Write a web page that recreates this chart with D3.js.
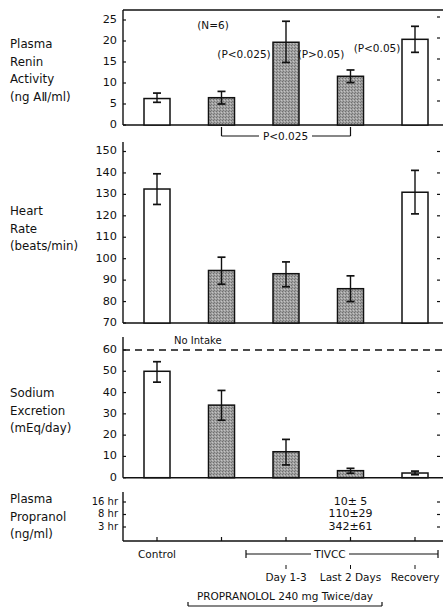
<!DOCTYPE html>
<html><head><meta charset="utf-8">
<script src="https://cdn.jsdelivr.net/npm/d3@7/dist/d3.min.js"></script>
<style>body{margin:0;background:#fff}svg{display:block}text{font-family:"DejaVu Sans",sans-serif;fill:#111}</style>
</head><body><svg id="c" width="443" height="610"></svg>
<script>
const categories = ["Control","Propranolol","Day 1-3","Last 2 Days","Recovery"];
const shaded = [false,true,true,true,false];
const reninMean = [6.3,6.5,19.7,11.6,20.4];
const reninLow  = [5.4,5.0,14.9,10.1,17.3];
const reninHigh = [7.6,8.0,24.7,13.1,23.5];
const hrMean = [132.5,94.5,93,86,131];
const hrLow  = [125.3,88.1,86.9,80,120.9];
const hrHigh = [139.6,100.7,98.5,92,141.2];
const naMean = [50,34.1,12.2,3.3,2.2];
const naLow  = [44.9,27,6,2.1,1.4];
const naHigh = [54.5,41,18,4.4,3.1];
const reninTicks = [0,5,10,15,20,25];
const hrTicks = [70,80,90,100,110,120,130,140,150];
const naTicks = [0,10,20,30,40,50,60];
const propLevels = ["16 hr","8 hr","3 hr"];
const propValues = ["10± 5","110±29","342±61"];
const noIntake = 60;

const svg = d3.select("#c");
const defs = svg.append("defs");
const pat = defs.append("pattern").attr("id","stip").attr("patternUnits","userSpaceOnUse").attr("width",3).attr("height",3);
pat.append("rect").attr("width",3).attr("height",3).attr("fill","#a0a0a0");
pat.append("rect").attr("x",0).attr("y",0).attr("width",1).attr("height",1).attr("fill","#6f6f6f");
pat.append("rect").attr("x",2).attr("y",1).attr("width",1).attr("height",1).attr("fill","#c4c4c4");
pat.append("rect").attr("x",1).attr("y",2).attr("width",1).attr("height",1).attr("fill","#7a7a7a");

const AX = 123, RX = 443, RT = 440;
const x = d3.scalePoint().domain(categories).range([157,415]);
const BW = 26;

function line(x1,y1,x2,y2,sw,dash){
  const l = svg.append("line").attr("x1",x1).attr("y1",y1).attr("x2",x2).attr("y2",y2)
    .attr("stroke","#111").attr("stroke-width",sw||1.3);
  if(dash) l.attr("stroke-dasharray",dash);
  return l;
}
function txt(s,xx,yy,anchor,size){
  return svg.append("text").attr("x",xx).attr("y",yy).attr("text-anchor",anchor||"start")
    .attr("font-size",size||11).text(s);
}
function label(lines,y0){
  lines.forEach((s,i)=>txt(s,10,y0+i*17.5,"start",11.8));
}

function panel(y, ticks, mean, low, high, axisTop){
  const y0 = y.range()[0];
  line(AX, axisTop, AX, y0, 1.4);
  line(AX, y0, RX, y0, 1.4);
  const g = svg.append("g");
  g.selectAll("rect").data(categories).join("rect")
    .attr("x",d=>x(d)-BW/2).attr("width",BW)
    .attr("y",(d,i)=>y(mean[i])).attr("height",(d,i)=>y0-y(mean[i]))
    .attr("fill",(d,i)=>shaded[i]?"url(#stip)":"#fff")
    .attr("stroke","#111").attr("stroke-width",1.5);
  categories.forEach((c,i)=>{
    const cx = x(c);
    line(cx, y(high[i]), cx, y(low[i]), 1.4);
    line(cx-4, y(high[i]), cx+4, y(high[i]), 1.7);
    line(cx-4, y(low[i]), cx+4, y(low[i]), 1.7);
  });
  ticks.forEach(t=>{
    line(AX, y(t), AX+3, y(t), 1.2);
    txt(String(t), 117, y(t)-1, "end", 11.3).attr("dy","0.35em");
  });
}

// Panel 1: renin
const yR = d3.scaleLinear().domain([0,25]).range([125,20]);
line(AX, 10, RX, 10, 1.4);
panel(yR, reninTicks, reninMean, reninLow, reninHigh, 10);
reninTicks.slice(1).forEach(t=>line(RT-3, yR(t)-3, RT, yR(t)-3, 1.2));
label(["Plasma","Renin","Activity","(ng AⅡ/ml)"],48);
txt("(N=6)", 213, 29, "middle", 10.5);
txt("(P<0.025)", 244, 58, "middle", 10.5);
txt("(P>0.05)", 321, 58, "middle", 10.5);
txt("(P<0.05)", 377, 52, "middle", 10.5);
{
  const xa = x(categories[1]), xb = x(categories[3]), yb = 136;
  line(xa, 127, xa, yb, 1.2); line(xb, 127, xb, yb, 1.2);
  line(xa, yb, 259, yb, 1.2); line(312, yb, xb, yb, 1.2);
  txt("P<0.025", 285.5, yb, "middle", 10.5).attr("dy","0.35em");
}

// Panel 2: heart rate
const yH = d3.scaleLinear().domain([70,150]).range([323,151.5]);
panel(yH, hrTicks, hrMean, hrLow, hrHigh, 142);
hrTicks.slice(1).forEach(t=>line(RT-3, yH(t), RT, yH(t), 1.2));
label(["Heart","Rate","(beats/min)"],215);

// Panel 3: sodium
const yN = d3.scaleLinear().domain([0,60]).range([477.7,350]);
panel(yN, naTicks, naMean, naLow, naHigh, 337);
line(AX, yN(noIntake), RX, yN(noIntake), 1.3, "7,5");
naTicks.slice(1,-1).forEach(t=>line(RT-3, yN(t), RT, yN(t), 1.2));
txt("No Intake", 174, 344, "start", 10);
label(["Sodium","Excretion","(mEq/day)"],397);

// Panel 4: plasma propranolol
const yP = d3.scalePoint().domain(propLevels).range([502,527]);
line(AX, 492, AX, 541, 1.4);
line(AX, 541, RX, 541, 1.4);
propLevels.forEach((p,i)=>{
  line(AX, yP(p), AX+3, yP(p), 1.2);
  line(RT-3, yP(p), RT, yP(p), 1.2);
  txt(p, 118, yP(p)-1, "end", 10).attr("dy","0.35em");
  txt(propValues[i], x(categories[3]), yP(p)-1, "middle", 11).attr("dy","0.35em");
});
categories.forEach(c=>line(x(c), 541, x(c), 537, 1.2));
label(["Plasma","Propranol","(ng/ml)"],503);

// bottom labels
txt(categories[0], x(categories[0]), 558, "middle", 10.5);
line(246, 554, 311, 554, 1.2); line(349, 554, 438, 554, 1.2);
line(246, 550, 246, 558, 1.2); line(438, 550, 438, 558, 1.2);
txt("TIVCC", 330, 554, "middle", 10.5).attr("dy","0.35em");
categories.slice(2).forEach(c=>{
  line(x(c), 565, x(c), 569, 1);
  txt(c, x(c), 581, "middle", 10.5);
});
txt("PROPRANOLOL  240 mg  Twice/day", 285, 600, "middle", 10.5);
line(188, 606, 382, 606, 1.2); line(188, 602, 188, 606, 1.2); line(382, 602, 382, 606, 1.2);
</script></body></html>
